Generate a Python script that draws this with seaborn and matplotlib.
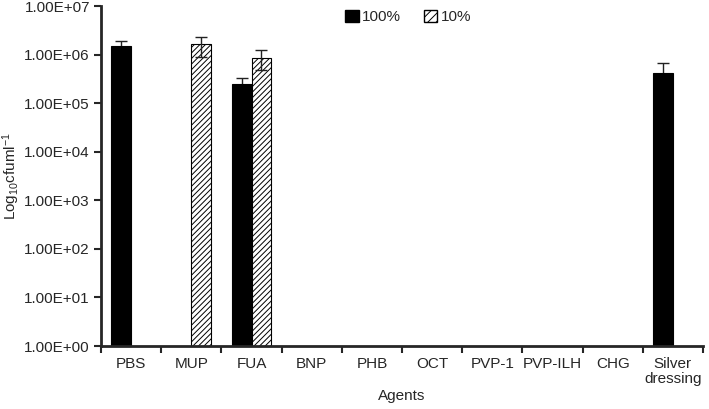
import numpy as np
import pandas as pd
import seaborn as sns
import matplotlib.pyplot as plt
from matplotlib.patches import Patch

agents = ['PBS', 'MUP', 'FUA', 'BNP', 'PHB', 'OCT', 'PVP-1', 'PVP-ILH', 'CHG', 'Silver\ndressing']
conc = ['100%', '10%']

# mean counts (nan = no growth / not shown)
vals_100 = [1.5e6, np.nan, 2.5e5, np.nan, np.nan, np.nan, np.nan, np.nan, np.nan, 4.2e5]
vals_10 = [np.nan, 1.65e6, 8.5e5, np.nan, np.nan, np.nan, np.nan, np.nan, np.nan, np.nan]

# error bar limits
low_100 = [1.1e6, np.nan, 1.7e5, np.nan, np.nan, np.nan, np.nan, np.nan, np.nan, 1.7e5]
high_100 = [1.9e6, np.nan, 3.3e5, np.nan, np.nan, np.nan, np.nan, np.nan, np.nan, 6.7e5]
low_10 = [np.nan, 9.0e5, 4.8e5, np.nan, np.nan, np.nan, np.nan, np.nan, np.nan, np.nan]
high_10 = [np.nan, 2.3e6, 1.24e6, np.nan, np.nan, np.nan, np.nan, np.nan, np.nan, np.nan]

df = pd.DataFrame({
    'Agent': agents * 2,
    'Conc': ['100%'] * len(agents) + ['10%'] * len(agents),
    'cfu': vals_100 + vals_10,
})

sns.set_style('ticks')
plt.rcParams['font.family'] = ['Liberation Sans', 'DejaVu Sans']
plt.rcParams['mathtext.fontset'] = 'custom'
plt.rcParams['mathtext.rm'] = 'Liberation Sans'
plt.rcParams['mathtext.it'] = 'Liberation Sans:italic'
plt.rcParams['hatch.linewidth'] = 0.7

fig = plt.figure(figsize=(7.09, 4.09), dpi=100)
ax = fig.add_axes([0.1425, 0.154, 0.849, 0.831])

sns.barplot(data=df, x='Agent', y='cfu', hue='Conc', hue_order=conc, order=agents,
            palette=['black', 'white'], edgecolor='black', linewidth=0.8,
            width=0.66, ax=ax, legend=False, log_scale=(False, True))

lows = [low_100, low_10]
highs = [high_100, high_10]
for bar in list(ax.patches):
    k = 0 if bar.get_facecolor()[0] < 0.5 else 1
    if k == 1:
        bar.set_hatch('//////')
    h = bar.get_y() + bar.get_height()
    xc = bar.get_x() + bar.get_width() / 2
    i = int(round(xc))
    if not np.isfinite(h) or np.isnan(lows[k][i]):
        continue
    # black bars hide the lower half of the error bar
    ax.errorbar(xc, h, yerr=[[max(h - lows[k][i], 0)], [max(highs[k][i] - h, 0)]],
                fmt='none', ecolor='#222222', elinewidth=1, capsize=4.5, capthick=1,
                zorder=0.5 if k == 0 else 3)

ax.set_yscale('log')
ax.set_ylim(1, 1e7)
ax.set_xlim(-0.5, len(agents) - 0.5)
ax.set_yticks([10.0 ** p for p in range(8)])
ax.set_yticklabels(['1.00E+%02d' % p for p in range(8)], fontsize=11)
ax.minorticks_off()

ax.set_xticks(range(len(agents)))
ax.set_xticklabels(agents, fontsize=11, linespacing=1.1)
ax.set_xticks(np.arange(-0.5, len(agents), 1.0), minor=True)
ax.tick_params(axis='x', which='major', length=0, pad=8)
ax.tick_params(axis='x', which='minor', length=5, width=1.5, direction='out')
ax.tick_params(axis='y', which='major', length=5, width=1.5, direction='out', pad=3)

sns.despine(ax=ax)
for s in ['left', 'bottom']:
    ax.spines[s].set_linewidth(2)

ax.set_xlabel('Agents', fontsize=11, labelpad=2)
ax.set_ylabel('Log$_{10}$cfuml$^{-1}$', fontsize=11, labelpad=2)

handles = [Patch(facecolor='black', edgecolor='black'),
           Patch(facecolor='white', edgecolor='black', hatch='////')]
ax.legend(handles, conc, loc='upper center', bbox_to_anchor=(0.51, 1.03), ncol=2,
          frameon=False, fontsize=11, handlelength=0.9, handleheight=0.9,
          handletextpad=0.2, columnspacing=1.5)

fig.savefig('out.png', dpi=100)
